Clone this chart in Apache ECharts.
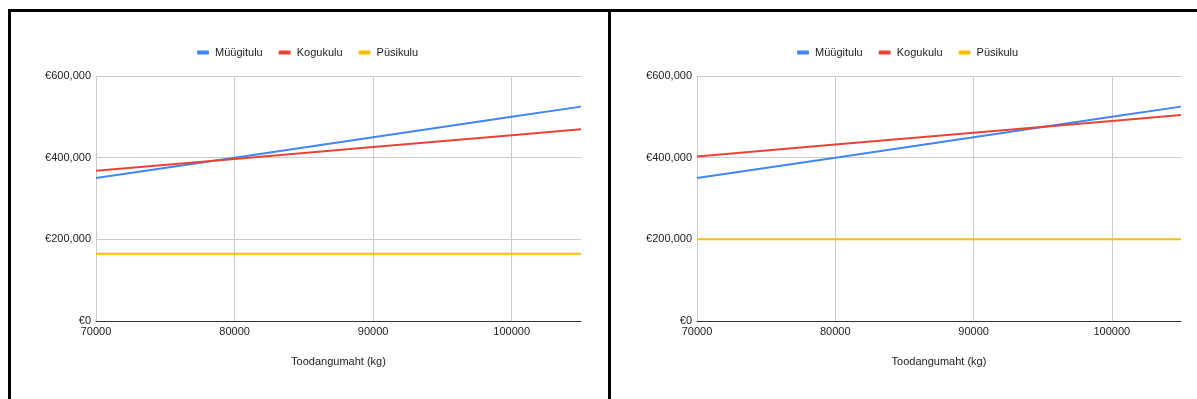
<!DOCTYPE html>
<html>
<head>
<meta charset="utf-8">
<script src="https://cdn.jsdelivr.net/npm/echarts@6/dist/echarts.min.js"></script>
<style>
  html, body { margin: 0; padding: 0; background: #fff; }
  #chart { width: 1197px; height: 399px; }
</style>
</head>
<body>
<div id="chart"></div>
<script>
// toodangumaht (kg)
var kogused = [70000, 80000, 90000, 100000, 105000];
var xTicks = [70000, 80000, 90000, 100000];
var seriesNames = ["Müügitulu", "Kogukulu", "Püsikulu"];

// vasak graafik
var myygituluA = [350000, 400000, 450000, 500000, 525000];
var kogukuluA = [368000, 397000, 426000, 455000, 469500];
var pysikuluA = [165000, 165000, 165000, 165000, 165000];

// parem graafik
var myygituluB = [350000, 400000, 450000, 500000, 525000];
var kogukuluB = [403000, 432000, 461000, 490000, 504500];
var pysikuluB = [200000, 200000, 200000, 200000, 200000];

var colors = ["#4285f4", "#ea4335", "#fbbc04"];
var font = "Liberation Sans, Arial, sans-serif";

function pairs(ys) {
    return kogused.map(function (x, i) { return [x, ys[i]]; });
}

function xAxisFor(gi) {
    return {
        type: "value",
        gridIndex: gi,
        min: 70000,
        max: 105000,
        interval: 10000,
        name: "Toodangumaht (kg)",
        nameLocation: "middle",
        nameGap: 35,
        nameTextStyle: { color: "#222", fontSize: 11, fontFamily: font },
        axisLine: { show: true, lineStyle: { color: "#333", width: 1 } },
        axisTick: { show: false, customValues: xTicks },
        axisLabel: {
            color: "#222", fontSize: 11, fontFamily: font, margin: 5,
            customValues: xTicks,
            formatter: function (v) { return String(v); }
        },
        splitLine: { show: true, lineStyle: { color: "#cccccc", width: 1 } }
    };
}

function yAxisFor(gi) {
    return {
        type: "value",
        gridIndex: gi,
        min: 0,
        max: 600000,
        interval: 200000,
        axisLine: { show: false },
        axisTick: { show: false },
        axisLabel: {
            color: "#222", fontSize: 11, fontFamily: font, margin: 5,
            formatter: function (v) { return "€" + v.toLocaleString("en-US"); }
        },
        splitLine: { show: true, lineStyle: { color: "#cccccc", width: 1 } }
    };
}

function lineSeries(name, ys, idx, gi) {
    return {
        name: name,
        type: "line",
        xAxisIndex: gi,
        yAxisIndex: gi,
        data: pairs(ys),
        showSymbol: false,
        color: colors[idx],
        lineStyle: { width: 2, color: colors[idx] }
    };
}

function legendFor(startX) {
    return {
        data: seriesNames,
        top: 42,
        left: startX,
        itemWidth: 12,
        itemHeight: 4,
        itemGap: 16,
        icon: "roundRect",
        textStyle: { color: "#222", fontSize: 11, fontFamily: font, padding: [0, 0, 0, 1] }
    };
}

var dom = document.getElementById("chart");
var myChart = echarts.init(dom);
var option = {
    animation: false,
    backgroundColor: "#fff",
    legend: [legendFor(192), legendFor(792)],
    grid: [
        { left: 96, top: 76, width: 485, height: 245 },
        { left: 697, top: 76, width: 484, height: 245 }
    ],
    xAxis: [xAxisFor(0), xAxisFor(1)],
    yAxis: [yAxisFor(0), yAxisFor(1)],
    series: [
        lineSeries("Müügitulu", myygituluA, 0, 0),
        lineSeries("Kogukulu", kogukuluA, 1, 0),
        lineSeries("Püsikulu", pysikuluA, 2, 0),
        lineSeries("Müügitulu", myygituluB, 0, 1),
        lineSeries("Kogukulu", kogukuluB, 1, 1),
        lineSeries("Püsikulu", pysikuluB, 2, 1)
    ],
    graphic: [
        { type: "rect", shape: { x: 8, y: 9, width: 1189, height: 3 }, style: { fill: "#000" } },
        { type: "rect", shape: { x: 8, y: 9, width: 3, height: 390 }, style: { fill: "#000" } },
        { type: "rect", shape: { x: 608, y: 9, width: 3, height: 390 }, style: { fill: "#000" } }
    ]
};
myChart.setOption(option);
</script>
</body>
</html>
